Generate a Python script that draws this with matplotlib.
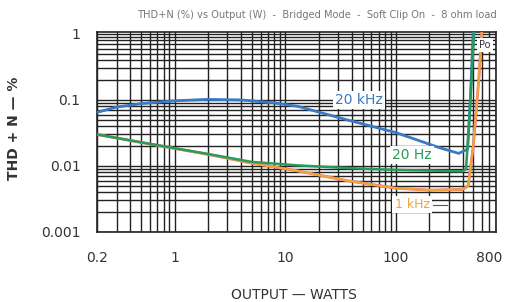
import matplotlib
matplotlib.use("Agg")
import matplotlib.pyplot as plt
from matplotlib.transforms import ScaledTranslation
import numpy as np

# THD+N curves (watts, percent)
w_20k = [0.2, 0.3, 0.5, 1, 2, 4, 8, 13, 36, 100, 245, 370, 445, 470, 500]
thd_20k = [0.065, 0.078, 0.088, 0.097, 0.102, 0.1, 0.09, 0.08, 0.05, 0.032, 0.019, 0.0155, 0.018, 0.1, 1.2]

w_20 = [0.2, 0.5, 1, 2, 5, 13, 36, 100, 200, 400, 430, 460, 510]
thd_20 = [0.030, 0.0228, 0.0186, 0.0152, 0.0115, 0.0102, 0.0093, 0.0087, 0.0085, 0.0083, 0.009, 0.05, 1.2]

w_1k = [0.2, 0.5, 1, 2, 5, 13, 36, 100, 200, 400, 450, 500, 560, 600]
thd_1k = [0.030, 0.0227, 0.0184, 0.015, 0.011, 0.0084, 0.006, 0.0046, 0.0043, 0.0044, 0.005, 0.02, 0.2, 1.2]

xticks = [0.2, 1, 10, 100, 800]
xlabels = ["0.2", "1", "10", "100", "800"]
yticks = [0.001, 0.01, 0.1, 1]
ylabels = ["0.001", "0.01", "0.1", "1"]

fig = plt.figure(figsize=(5.06, 3.02), dpi=100)
ax = fig.add_axes([0.192, 0.232, 0.788, 0.662])
ax.set_xscale("log")
ax.set_yscale("log")
ax.set_xlim(0.2, 800)
ax.set_ylim(0.001, 1.07)

ax.grid(True, which="both", color="#222222", lw=1.0)
ax.set_axisbelow(True)
for s in ax.spines.values():
    s.set_color("#222222")
    s.set_linewidth(1.2)

ax.plot(w_1k, thd_1k, color="#e86a8a", lw=2.0, zorder=3)
ax.plot(w_1k, thd_1k, color="#f2a33a", lw=1.6, zorder=3)
ax.plot(w_20, thd_20, color="#2a9a5a", lw=1.8, zorder=4)
ax.plot(w_20k, thd_20k, color="#3a7ac4", lw=2.0, zorder=3)

ax.set_xticks(xticks)
ax.set_xticklabels(xlabels)
ax.set_yticks(yticks)
ax.set_yticklabels(ylabels)
ax.tick_params(axis="x", which="both", length=0, labelsize=10, colors="#333333", pad=14)
ax.tick_params(axis="y", which="both", length=0, labelsize=10, colors="#333333", pad=12)
ax.xaxis.set_minor_formatter(matplotlib.ticker.NullFormatter())
ax.yaxis.set_minor_formatter(matplotlib.ticker.NullFormatter())
last = ax.get_xticklabels()[-1]
last.set_transform(last.get_transform() + ScaledTranslation(-7 / 100, 0, fig.dpi_scale_trans))

box = dict(facecolor="white", edgecolor="none", pad=1.5)
ax.text(46, 0.1, "20 kHz", color="#3a7ac4", fontsize=10, ha="center", va="center", bbox=box, zorder=5)
ax.text(140, 0.0145, "20 Hz", color="#2a9a5a", fontsize=10, ha="center", va="center", bbox=box, zorder=5)
ax.text(140, 0.0026, "1 kHz", color="#f2a33a", fontsize=9, ha="center", va="center", bbox=box, zorder=5)
ax.plot([215, 290], [0.0026, 0.0026], color="#555555", lw=0.8, zorder=5)
ax.text(640, 0.68, "Po", color="#333333", fontsize=7, ha="center", va="center", bbox=box, zorder=5)

fig.text(0.627, 0.95, "THD+N (%) vs Output (W)  -  Bridged Mode  -  Soft Clip On  -  8 ohm load",
         fontsize=7.1, color="#777777", ha="center", va="center")
fig.text(0.028, 0.575, "THD + N \u2014 %", rotation=90, fontsize=10, fontweight="bold",
         color="#333333", ha="center", va="center")
fig.text(0.58, 0.022, "OUTPUT \u2014 WATTS", fontsize=10, color="#333333", ha="center", va="center")

fig.savefig("out.png", dpi=100)
